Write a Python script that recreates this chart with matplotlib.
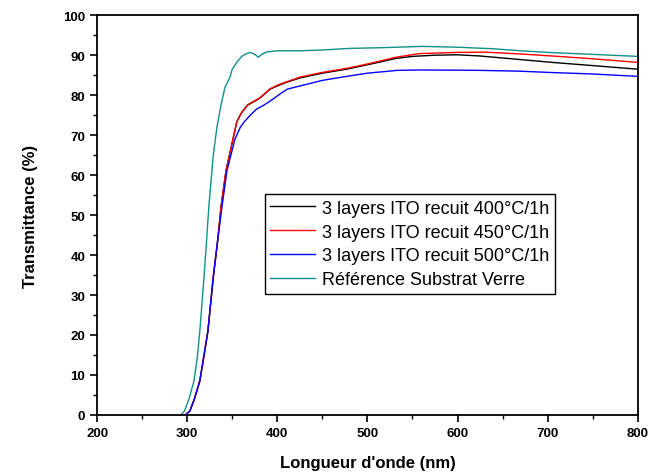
import matplotlib
matplotlib.use('Agg')
import matplotlib.pyplot as plt
from matplotlib.ticker import MultipleLocator

# Reference glass substrate
wl_glass = [293, 297, 302, 307.5, 311, 314, 318.5, 321, 324, 328.7, 333, 337.5, 342, 347.5,
            350, 356, 361, 365, 370, 375, 379, 383, 388, 400, 425, 450, 480, 520, 560,
            600, 640, 670, 700, 750, 800]
t_glass = [0, 1, 4, 8.5, 14, 21, 34, 42, 52, 64.5, 72, 77.5, 82, 84.5,
           86.5, 88.5, 89.8, 90.3, 90.7, 90.2, 89.5, 90.2, 90.8, 91.1, 91.1, 91.3, 91.7, 91.9, 92.2,
           92.0, 91.6, 91.1, 90.7, 90.2, 89.7]

# 3 layers ITO, 400 C
wl_400 = [298, 303, 308, 314, 318, 323, 328.7, 334, 337.5, 343, 350.8, 355, 360, 367, 375,
          381, 392, 400, 410, 425, 450, 477, 500, 532, 550, 575, 600, 625, 650, 675, 705,
          750, 800]
t_400 = [0, 1, 4, 8.5, 14, 21, 34, 44, 52, 61, 69, 73.3, 75.5, 77.5, 78.5,
         79.3, 81.5, 82.3, 83.2, 84.3, 85.5, 86.5, 87.6, 89.2, 89.7, 90.0, 90.1, 89.8, 89.3, 88.8, 88.2,
         87.4, 86.5]

# 3 layers ITO, 450 C
wl_450 = [298, 303, 308, 314, 318, 323, 328.7, 334, 337.5, 343, 350.8, 355, 360, 367, 375,
          381, 392, 400, 410, 425, 450, 477, 500, 532, 558, 600, 632, 670, 705, 750, 800]
t_450 = [0, 1, 4, 8.5, 14, 21, 34, 44, 52, 61, 69, 73.3, 75.5, 77.6, 78.6,
         79.4, 81.6, 82.5, 83.3, 84.5, 85.7, 86.7, 87.8, 89.5, 90.4, 90.7, 90.75, 90.3, 89.8, 89.1, 88.2]

# 3 layers ITO, 500 C
wl_500 = [298, 303, 308, 314, 318, 323, 328.7, 334, 338.6, 344, 353, 359, 364, 370, 377,
          385, 392, 403, 411, 425, 450, 477, 500, 533, 558, 600, 625, 669, 700, 750, 800]
t_500 = [0, 1, 4, 8.5, 14, 21, 34, 44, 52, 61, 69, 72, 73.5, 75, 76.5,
         77.5, 78.5, 80.3, 81.5, 82.3, 83.7, 84.7, 85.5, 86.2, 86.3, 86.25, 86.2, 86.0, 85.7, 85.3, 84.7]

labels = ['3 layers ITO recuit 400°C/1h', '3 layers ITO recuit 450°C/1h',
          '3 layers ITO recuit 500°C/1h', 'Référence Substrat Verre']

plt.rcParams['font.family'] = ['Liberation Sans', 'DejaVu Sans']

fig = plt.figure(figsize=(6.65, 4.77), dpi=100)
ax = fig.add_axes([0.146, 0.128, 0.813, 0.838])

ax.plot(wl_400, t_400, color='black', lw=1, label=labels[0])
ax.plot(wl_450, t_450, color='#ff0000', lw=1, label=labels[1])
ax.plot(wl_500, t_500, color='#0000ff', lw=1, label=labels[2])
ax.plot(wl_glass, t_glass, color='#10908a', lw=1, label=labels[3])

ax.set_xlim(200, 800)
ax.set_ylim(0, 100)
ax.xaxis.set_major_locator(MultipleLocator(100))
ax.xaxis.set_minor_locator(MultipleLocator(50))
ax.yaxis.set_major_locator(MultipleLocator(10))
ax.yaxis.set_minor_locator(MultipleLocator(5))
ax.tick_params(which='major', direction='out', length=5, width=1.2, labelsize=9.5)
ax.tick_params(which='minor', direction='out', length=3, width=1)
for lab in ax.get_xticklabels() + ax.get_yticklabels():
    lab.set_fontweight('bold')
for s in ax.spines.values():
    s.set_linewidth(1.3)

ax.set_xlabel("Longueur d'onde (nm)", fontsize=12, fontweight='bold', labelpad=12)
ax.set_ylabel('Transmittance (%)', fontsize=12, fontweight='bold', labelpad=18)

leg = ax.legend(loc='upper left', bbox_to_anchor=(0.31, 0.552), fontsize=13,
                frameon=True, fancybox=False, framealpha=1, edgecolor='black',
                handlelength=2.5, handletextpad=0.4, borderpad=0.3, labelspacing=0.38,
                borderaxespad=0)
leg.get_frame().set_linewidth(1)

plt.savefig('out.png', dpi=100, facecolor='white')
plt.close()
